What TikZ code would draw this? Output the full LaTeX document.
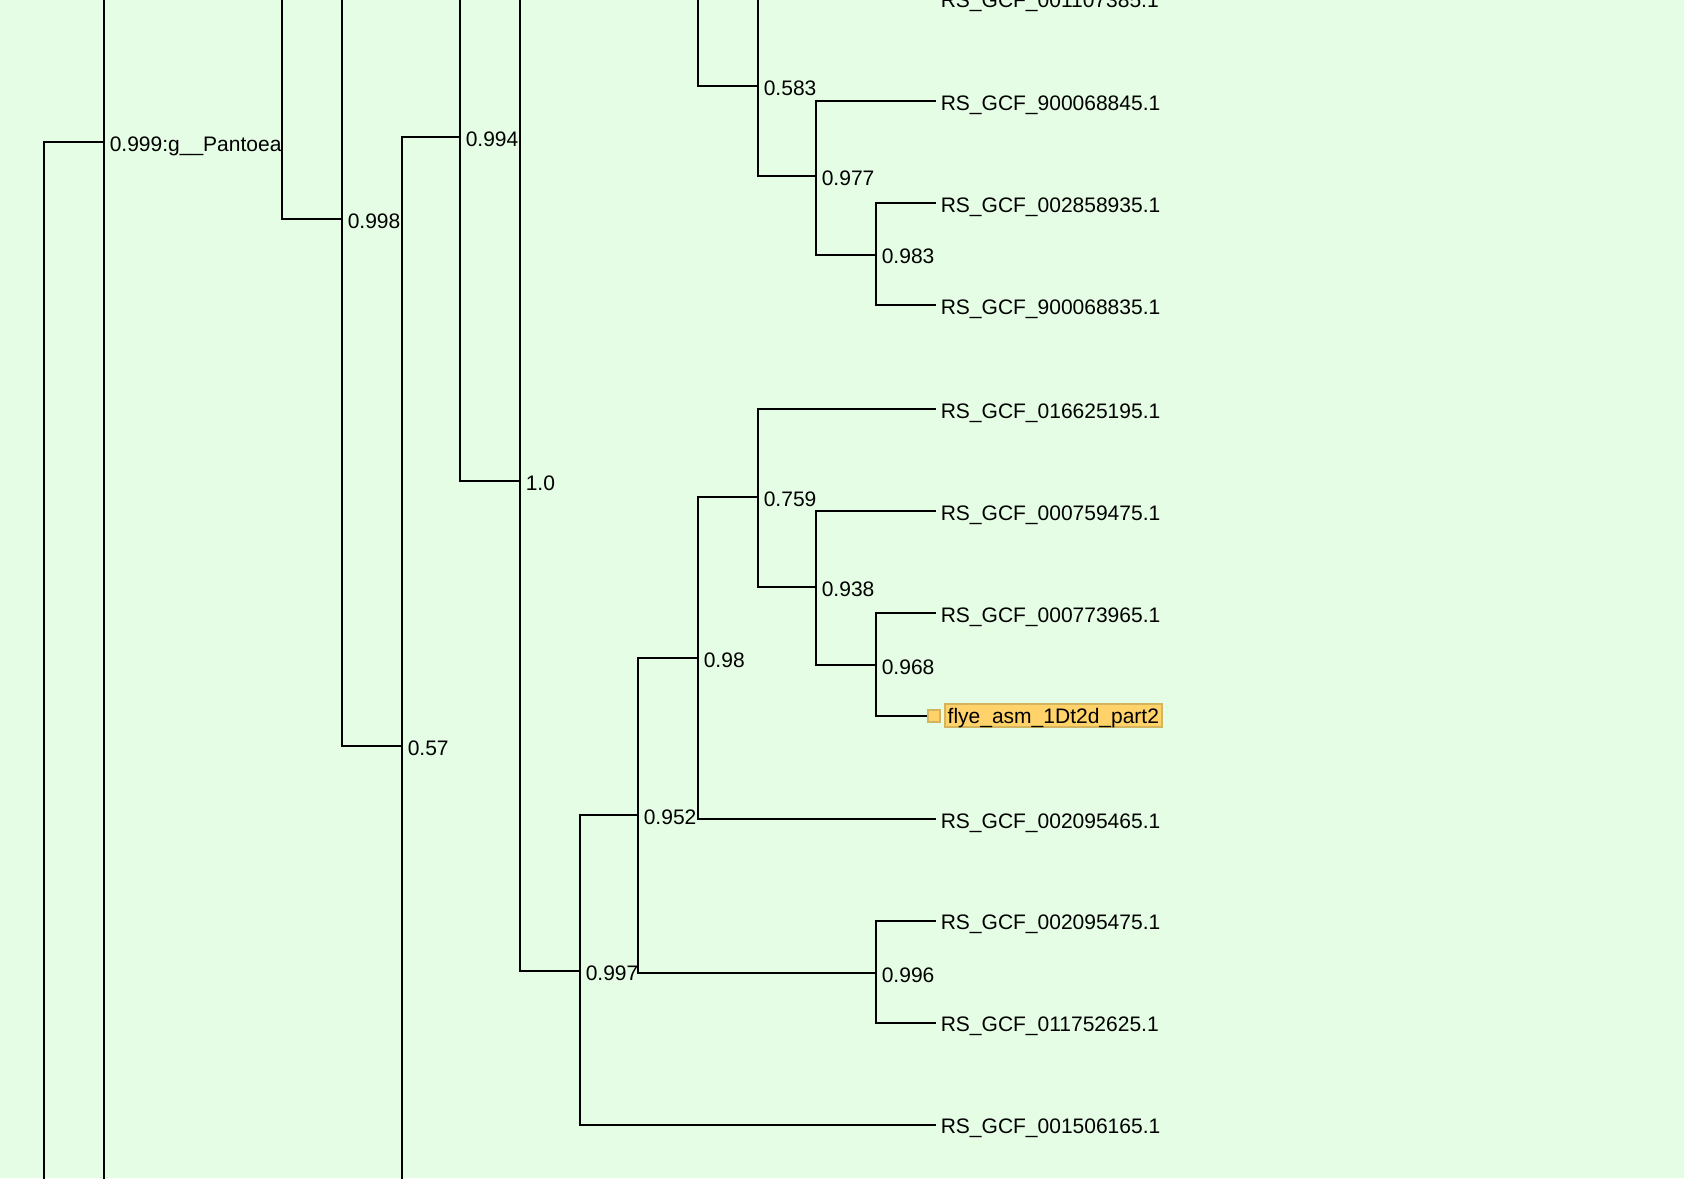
\documentclass[tikz,border=0pt]{standalone}
\usepackage{fontspec}
\setmainfont{Liberation Sans}
\usepackage{tikz}
\usetikzlibrary{positioning}
\definecolor{treebg}{RGB}{228,253,228}
\definecolor{hlfill}{RGB}{255,211,105}
\definecolor{hldraw}{RGB}{212,180,92}
\tikzset{
  branch/.style={line width=1pt, black},
  txt/.style={inner ysep=0pt, text height=9pt, text depth=0pt, font=\fontsize{10.5}{12}\selectfont},
  supp/.style={txt, anchor=west, inner xsep=2.7pt},
  leaf/.style={txt, anchor=west, inner xsep=2.2pt},
  hlleaf/.style={leaf, fill=hlfill, draw=hldraw, line width=1pt, inner xsep=1.5pt, inner ysep=0.3pt, text height=9.4pt, text depth=1.6pt, yshift=-0.6pt},
  hlmark/.style={fill=hlfill, draw=hldraw, line width=1pt, minimum width=5.6pt, minimum height=6pt, inner sep=0pt},
}

\begin{document}
\begin{tikzpicture}[x=0.5pt, y=-0.5pt]
\useasboundingbox (0,0) rectangle (1684,1178);
\fill[treebg] (0,0) rectangle (1684,1178);
\clip (0,0) rectangle (1684,1178);

\coordinate (nA) at (44,1220);
\coordinate (pantoea) at (104,142);
\coordinate (nB) at (282,-40);
\coordinate (n998) at (342,219);
\coordinate (n57) at (402,746);
\coordinate (n994) at (460,137);
\coordinate (n10) at (520,481);
\coordinate (n997) at (580,971);
\coordinate (n952) at (638,815);
\coordinate (n98) at (698,658);
\coordinate (n759) at (758,497);
\coordinate (n938) at (816,587);
\coordinate (n968) at (876,665);
\coordinate (n996) at (876,973);
\coordinate (nC) at (698,-40);
\coordinate (n583) at (758,86);
\coordinate (n977) at (816,176);
\coordinate (n983) at (876,254.5);
\coordinate (cA) at (164,-40);
\coordinate (cB) at (164,1220);
\coordinate (cC) at (402,-40);
\coordinate (cD) at (460,1220);
\coordinate (cE) at (520,-40);
\coordinate (cF) at (580,-40);

\node[supp] (lpantoea) at (pantoea) {0.999:g\_\_Pantoea};
\node[supp] (l998) at (n998) {0.998};
\node[supp] (l57) at (n57) {0.57};
\node[supp] (l994) at (n994) {0.994};
\node[supp] (l10) at (n10) {1.0};
\node[supp] (l997) at (n997) {0.997};
\node[supp] (l952) at (n952) {0.952};
\node[supp] (l98) at (n98) {0.98};
\node[supp] (l759) at (n759) {0.759};
\node[supp] (l938) at (n938) {0.938};
\node[supp] (l968) at (n968) {0.968};
\node[supp] (l996) at (n996) {0.996};
\node[supp] (l583) at (n583) {0.583};
\node[supp] (l977) at (n977) {0.977};
\node[supp] (l983) at (n983) {0.983};

\node[leaf] (gcf07385) at (936,-1.5) {RS\_GCF\_001107385.1};
\node[leaf] (gcf68845) at (936,101) {RS\_GCF\_900068845.1};
\node[leaf] (gcf58935) at (936,203) {RS\_GCF\_002858935.1};
\node[leaf] (gcf68835) at (936,305) {RS\_GCF\_900068835.1};
\node[leaf] (gcf25195) at (936,409) {RS\_GCF\_016625195.1};
\node[leaf] (gcf59475) at (936,511) {RS\_GCF\_000759475.1};
\node[leaf] (gcf73965) at (936,613) {RS\_GCF\_000773965.1};
\node[hlleaf] (flye) at (943.7,714.5) {flye\_asm\_1Dt2d\_part2};
\node[hlmark, left=1.6pt of flye] (flyemark) {};
\node[leaf] (gcf95465) at (936,819) {RS\_GCF\_002095465.1};
\node[leaf] (gcf95475) at (936,920.5) {RS\_GCF\_002095475.1};
\node[leaf] (gcf52625) at (936,1022.5) {RS\_GCF\_011752625.1};
\node[leaf] (gcf06165) at (936,1124.5) {RS\_GCF\_001506165.1};

\draw[branch] (nA) |- (pantoea);
\draw[branch] (pantoea) |- (cA);
\draw[branch] (pantoea) |- (cB);
\draw[branch] (nB) |- (n998);
\draw[branch] (n998) |- (cC);
\draw[branch] (n998) |- (n57);
\draw[branch] (n57) |- (n994);
\draw[branch] (n57) |- (cD);
\draw[branch] (n994) |- (cE);
\draw[branch] (n994) |- (n10);
\draw[branch] (n10) |- (cF);
\draw[branch] (n10) |- (n997);
\draw[branch] (n997) |- (n952);
\draw[branch] (n997) |- (gcf06165);
\draw[branch] (n952) |- (n98);
\draw[branch] (n952) |- (n996);
\draw[branch] (n98) |- (n759);
\draw[branch] (n98) |- (gcf95465);
\draw[branch] (n759) |- (gcf25195);
\draw[branch] (n759) |- (n938);
\draw[branch] (n938) |- (gcf59475);
\draw[branch] (n938) |- (n968);
\draw[branch] (n968) |- (gcf73965);
\draw[branch] (n968) |- (flyemark);
\draw[branch] (n996) |- (gcf95475);
\draw[branch] (n996) |- (gcf52625);
\draw[branch] (nC) |- (n583);
\draw[branch] (n583) |- (gcf07385);
\draw[branch] (n583) |- (n977);
\draw[branch] (n977) |- (gcf68845);
\draw[branch] (n977) |- (n983);
\draw[branch] (n983) |- (gcf58935);
\draw[branch] (n983) |- (gcf68835);
\end{tikzpicture}
\end{document}
